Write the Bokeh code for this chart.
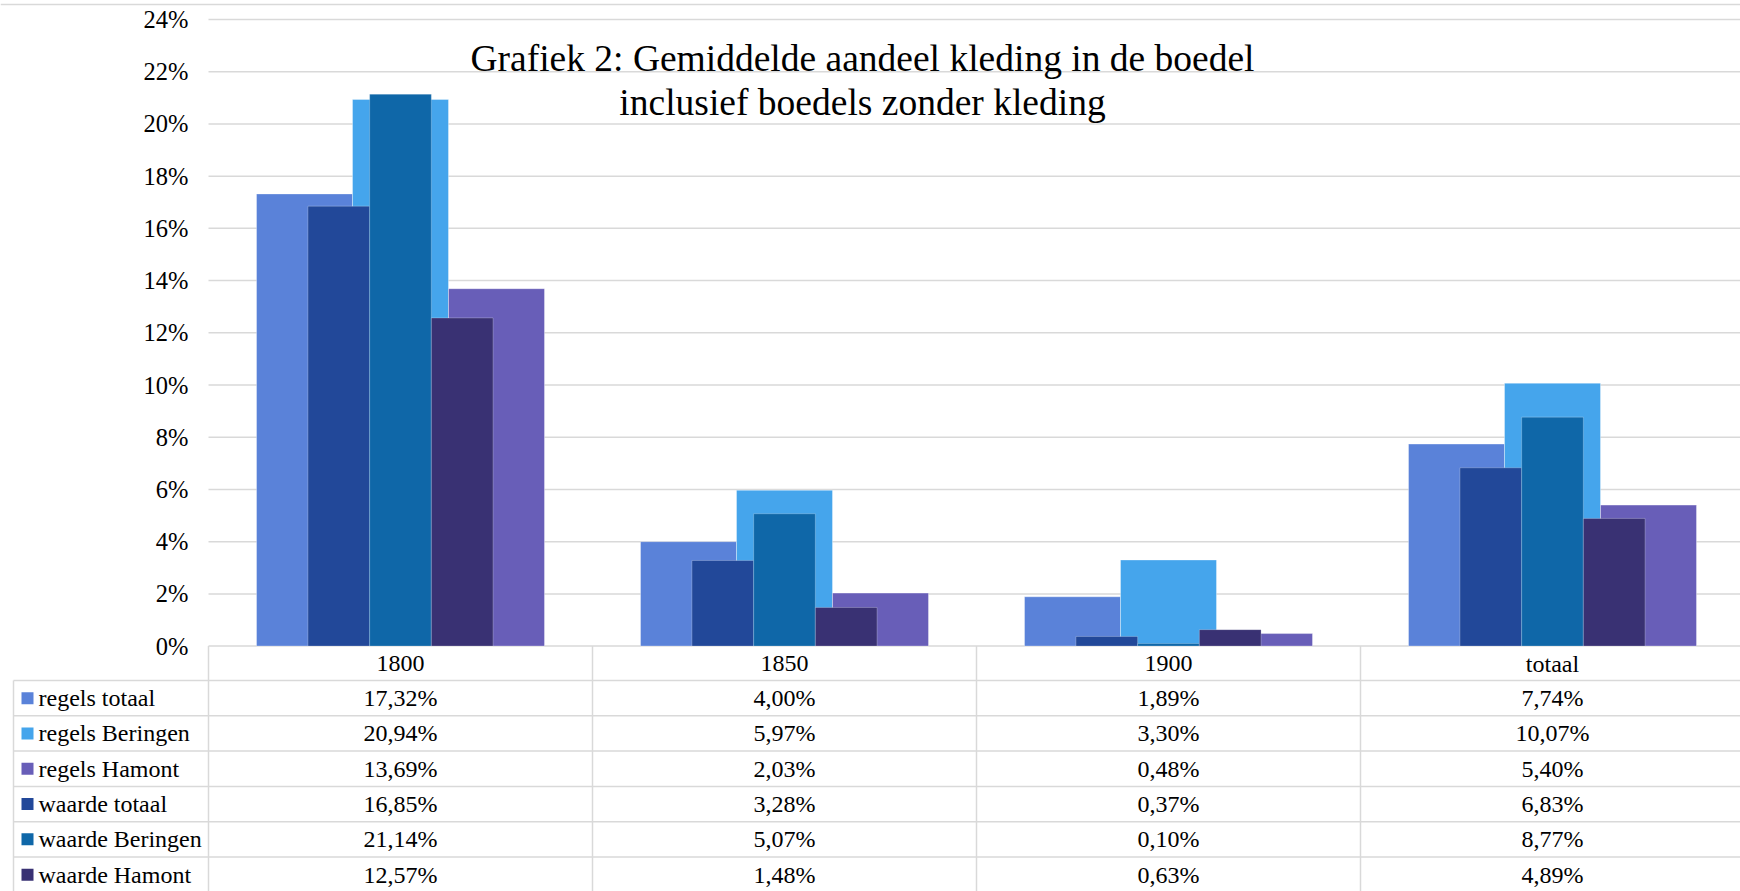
from bokeh.plotting import figure
from bokeh.models import Range1d, ColumnDataSource
from bokeh.embed import file_html
from bokeh.resources import INLINE
from bokeh.core.properties import value

# ---------------- data ----------------
categories = ["1800", "1850", "1900", "totaal"]

regels_names = ["regels totaal", "regels Beringen", "regels Hamont"]
waarde_names = ["waarde totaal", "waarde Beringen", "waarde Hamont"]

regels_totaal = [0.1732, 0.0400, 0.0189, 0.0774]
regels_beringen = [0.2094, 0.0597, 0.0330, 0.1007]
regels_hamont = [0.1369, 0.0203, 0.0048, 0.0540]
waarde_totaal = [0.1685, 0.0328, 0.0037, 0.0683]
waarde_beringen = [0.2114, 0.0507, 0.0010, 0.0877]
waarde_hamont = [0.1257, 0.0148, 0.0063, 0.0489]

y_ticks = [0.00, 0.02, 0.04, 0.06, 0.08, 0.10, 0.12, 0.14, 0.16, 0.18, 0.20, 0.22, 0.24]
y_tick_labels = ["0%", "2%", "4%", "6%", "8%", "10%", "12%", "14%", "16%", "18%", "20%", "22%", "24%"]

title_lines = ["Grafiek 2: Gemiddelde aandeel kleding in de boedel",
               "inclusief boedels zonder kleding"]

# ---------------- styling ----------------
colors = {
    "regels totaal": "#5A82D9",
    "regels Beringen": "#45A5EC",
    "regels Hamont": "#685EB8",
    "waarde totaal": "#224899",
    "waarde Beringen": "#0F67A8",
    "waarde Hamont": "#393173",
}
regels_values = [regels_totaal, regels_beringen, regels_hamont]
waarde_values = [waarde_totaal, waarde_beringen, waarde_hamont]

table_order = ["regels totaal", "regels Beringen", "regels Hamont",
               "waarde totaal", "waarde Beringen", "waarde Hamont"]
table_values = dict(zip(regels_names + waarde_names, regels_values + waarde_values))

FONT = value("Liberation Serif")
GRID = "#D9D9D9"
BLACK = "#000000"

W, H = 1740, 891
LEFT = 208.0          # px where the category axis starts
CAT_PX = 384.0        # px per category
ZERO_Y = 645.6        # px row of 0 %
PXU = (ZERO_Y - 19.0) / 0.24   # px per unit of y
HEADER_BOTTOM = 680.0
ROW_H = 35.3

REG_W = 0.25
WAA_W = 0.1607


def xs(px):   # horizontal pixel -> data
    return (px - LEFT) / CAT_PX


def ys(px):   # vertical pixel (from top) -> data
    return (ZERO_Y - px) / PXU


x_start, x_end = xs(0), xs(W)
p = figure(width=W, height=H,
           x_range=Range1d(x_start, x_end),
           y_range=Range1d(ys(H), ys(0)),
           x_axis_location=None, y_axis_location=None,
           output_backend="svg", toolbar_location=None,
           min_border_left=0, min_border_right=0,
           min_border_top=0, min_border_bottom=0)
p.outline_line_color = None
p.background_fill_color = "white"
p.border_fill_color = "white"
p.xgrid.visible = False
p.ygrid.visible = False

# top border of chart area
p.segment(x0=[x_start], y0=[ys(4)], x1=[x_end], y1=[ys(4)],
          line_color=GRID, line_width=1.5)

# horizontal gridlines + value-axis labels
p.segment(x0=[0] * len(y_ticks), y0=y_ticks, x1=[x_end] * len(y_ticks), y1=y_ticks,
          line_color=GRID, line_width=1.5)
p.text(x=[xs(188)] * len(y_ticks), y=y_ticks, text=y_tick_labels,
       text_font=FONT, text_font_size="24.5px", text_align="right",
       text_baseline="middle", text_color=BLACK)

centers = [i + 0.5 for i in range(len(categories))]

for i, (name, vals) in enumerate(zip(regels_names, regels_values)):
    src = ColumnDataSource(dict(x=[c + (i - 1) * REG_W for c in centers], top=vals))
    p.vbar(x="x", top="top", bottom=0, width=REG_W, source=src,
           fill_color=colors[name], line_color="white", line_alpha=0.35, line_width=1)

for i, (name, vals) in enumerate(zip(waarde_names, waarde_values)):
    src = ColumnDataSource(dict(x=[c + (i - 1) * WAA_W for c in centers], top=vals))
    p.vbar(x="x", top="top", bottom=0, width=WAA_W, source=src,
           fill_color=colors[name], line_color="white", line_alpha=0.25, line_width=1)

# title
p.text(x=[xs(862)] * 2, y=[ys(58), ys(101.7)],
       text=title_lines, text_font=FONT, text_font_size="37.5px",
       text_align="center", text_baseline="alphabetic", text_color=BLACK)

# ---------------- data table ----------------
n_rows = len(table_order)
row_lines = [HEADER_BOTTOM + k * ROW_H for k in range(n_rows + 1)]
row_centers = [HEADER_BOTTOM + (k + 0.5) * ROW_H for k in range(n_rows)]
leg_x0 = xs(13)

# header row (category names)
p.text(x=centers, y=[ys((ZERO_Y + HEADER_BOTTOM) / 2 + 0.5)] * len(categories), text=categories,
       text_font=FONT, text_font_size="24px", text_align="center",
       text_baseline="middle", text_color=BLACK)

p.segment(x0=[leg_x0] * len(row_lines), y0=[ys(v) for v in row_lines],
          x1=[x_end] * len(row_lines), y1=[ys(v) for v in row_lines],
          line_color=GRID, line_width=1.5)
p.segment(x0=[0, 1, 2, 3], y0=[0] * 4, x1=[0, 1, 2, 3], y1=[ys(H)] * 4,
          line_color=GRID, line_width=1.5)
p.segment(x0=[leg_x0], y0=[ys(HEADER_BOTTOM)], x1=[leg_x0], y1=[ys(H)],
          line_color=GRID, line_width=1.5)

p.scatter(x=[xs(27)] * n_rows, y=[ys(v) for v in row_centers], marker="square", size=12,
          fill_color=[colors[n] for n in table_order], line_color=None)
p.text(x=[xs(38)] * n_rows, y=[ys(v) for v in row_centers], text=table_order,
       text_font=FONT, text_font_size="24px", text_align="left",
       text_baseline="middle", text_color=BLACK)

tx, ty, tt = [], [], []
for r, name in enumerate(table_order):
    for c, v in enumerate(table_values[name]):
        tx.append(centers[c])
        ty.append(ys(row_centers[r]))
        tt.append(("%.2f" % (v * 100)).replace(".", ",") + "%")
p.text(x=tx, y=ty, text=tt, text_font=FONT, text_font_size="24px",
       text_align="center", text_baseline="middle", text_color=BLACK)

open("out.html", "w").write(file_html(p, INLINE))
